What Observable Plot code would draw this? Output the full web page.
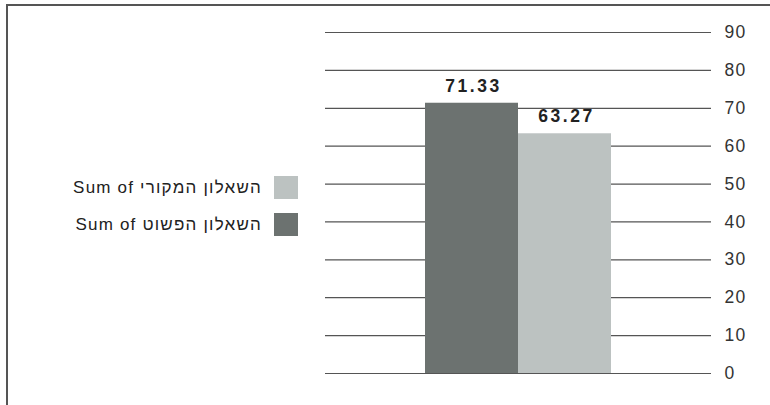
<!DOCTYPE html>
<html>
<head>
<meta charset="utf-8">
<script src="https://cdn.jsdelivr.net/npm/d3@7"></script>
<script src="https://cdn.jsdelivr.net/npm/@observablehq/plot@0.6"></script>
<style>
  body { margin: 0; background: #fff; }
  #wrap { position: relative; width: 770px; height: 405px; font-family: "Liberation Sans", Arial, sans-serif; }
  #frame { position: absolute; left: 6px; top: 4px; right: 0; bottom: 0; border-top: 2px solid #555; border-left: 2px solid #555; pointer-events: none; }
  #legend { position: absolute; right: 472px; top: 176px; }
  .item { display: flex; align-items: center; justify-content: flex-end; height: 23px; margin-bottom: 14px; font-size: 17px; letter-spacing: 1.2px; color: #222; }
  .item span { direction: ltr; }
  .sw { width: 24px; height: 23px; margin-left: 12px; }
  g[aria-label="text"] text { letter-spacing: 2.5px; }
  g[aria-label="y-axis tick label"] text { letter-spacing: 1.2px; }
</style>
</head>
<body>
<div id="wrap"><div id="frame"></div><div id="legend"></div></div>
<script>
const series = ["Sum of השאלון הפשוט", "Sum of השאלון המקורי"];
const values = [71.33, 63.27];
const colors = ["#6c7270", "#bcc2c1"];
const yTicks = [0, 10, 20, 30, 40, 50, 60, 70, 80, 90];
const legendOrder = ["Sum of השאלון המקורי", "Sum of השאלון הפשוט"];

const data = series.map((s, i) => ({series: s, value: values[i]}));

const chart = Plot.plot({
  width: 770,
  height: 405,
  marginLeft: 325,
  marginRight: 59,
  marginTop: 32,
  marginBottom: 32,
  style: {fontFamily: "'Liberation Sans', Arial, sans-serif", background: "transparent"},
  x: {domain: series, paddingInner: 0, paddingOuter: 1.075, axis: null},
  y: {domain: [0, 90], ticks: yTicks, label: null},
  color: {domain: series, range: colors},
  marks: [
    Plot.ruleY(yTicks, {stroke: "#555", strokeWidth: 1.2}),
    Plot.axisY({ticks: yTicks, label: null, anchor: "right", tickSize: 0, tickPadding: 13, fontSize: 17.5, fill: "#333", textAnchor: "start"}),
    Plot.barY(data, {x: "series", y: "value", fill: "series"}),
    Plot.text(data, {x: "series", y: "value", text: d => d.value.toFixed(2), dy: -17, dx: 1.5, fontSize: 17.5, fontWeight: "bold", fill: "#222"})
  ]
});
chart.style.position = "absolute";
chart.style.left = "0";
chart.style.top = "0";
document.getElementById("wrap").prepend(chart);

const legend = document.getElementById("legend");
legendOrder.forEach(name => {
  const i = series.indexOf(name);
  const row = document.createElement("div");
  row.className = "item";
  const t = document.createElement("span");
  t.textContent = name;
  const sw = document.createElement("div");
  sw.className = "sw";
  sw.style.background = colors[i];
  row.appendChild(t);
  row.appendChild(sw);
  legend.appendChild(row);
});
</script>
</body>
</html>
